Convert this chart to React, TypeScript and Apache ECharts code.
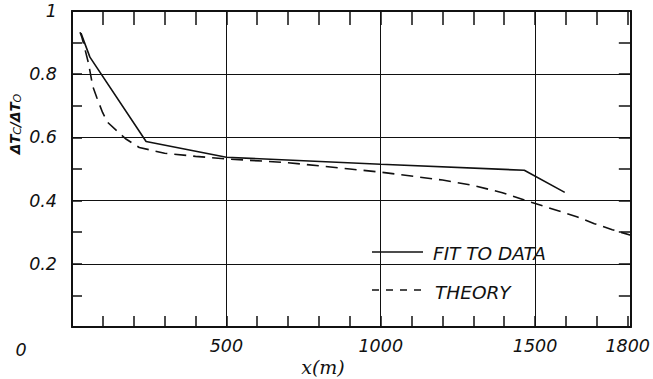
import React, { useEffect, useRef } from "react";
import * as echarts from "echarts";

const fitX = [29, 58, 240, 500, 1000, 1465, 1596];
const fitY = [0.93, 0.854, 0.587, 0.537, 0.515, 0.496, 0.426];

const theoryX = [26, 32, 42, 54, 67, 80, 99, 115, 147, 176, 218, 300, 400, 500, 700, 900, 1000, 1200, 1300, 1394, 1490, 1564, 1635, 1692, 1750, 1810];
const theoryY = [0.933, 0.917, 0.879, 0.832, 0.762, 0.727, 0.679, 0.648, 0.619, 0.594, 0.568, 0.55, 0.54, 0.532, 0.52, 0.5, 0.49, 0.465, 0.448, 0.425, 0.394, 0.371, 0.349, 0.327, 0.308, 0.29];

const xTickLabels = [500, 1000, 1500, 1800];
const yTickLabels = [0.2, 0.4, 0.6, 0.8, 1];
const xGridValues = [500, 1000, 1500];
const yGridValues = [0.2, 0.4, 0.6, 0.8];
const seriesNames = ["FIT TO DATA", "THEORY"];

const FONT = "DejaVu Sans";
const INK = "#111";

export default function App() {
  const ref = useRef<HTMLDivElement>(null);
  useEffect(() => {
    const chart = echarts.init(ref.current!, null, { renderer: "svg" });
    const labelStyle = { color: INK, fontFamily: FONT, fontStyle: "italic" as const, fontSize: 17.5 };
    const axisLine = { show: true, onZero: false, lineStyle: { color: INK, width: 2 } };
    chart.setOption({
      animation: false,
      grid: { left: 72, right: 17, top: 11, bottom: 52 },
      xAxis: [
        {
          type: "value", min: 0, max: 1810, interval: 100, position: "bottom",
          axisLine,
          axisTick: { show: true, inside: true, length: 11, lineStyle: { color: INK, width: 1.5 } },
          axisLabel: {
            ...labelStyle, margin: 10,
            formatter: (v: number) => (xTickLabels.includes(Math.round(v)) ? String(Math.round(v)) : ""),
          },
          splitLine: { show: false },
        },
        {
          type: "value", min: 0, max: 1810, interval: 100, position: "top",
          axisLine,
          axisTick: { show: true, inside: true, length: 14, lineStyle: { color: INK, width: 1.5 } },
          axisLabel: { show: false },
          splitLine: { show: false },
        },
      ],
      yAxis: [
        {
          type: "value", min: 0, max: 1, interval: 0.1, position: "left",
          axisLine,
          axisTick: { show: true, inside: true, length: 10, lineStyle: { color: INK, width: 1.5 } },
          axisLabel: {
            ...labelStyle, margin: 15,
            formatter: (v: number) => {
              const r = Math.round(v * 10) / 10;
              return yTickLabels.some((t) => Math.abs(t - r) < 1e-6) ? String(r) : "";
            },
          },
          splitLine: { show: false },
        },
        {
          type: "value", min: 0, max: 1, interval: 0.1, position: "right",
          axisLine,
          axisTick: { show: true, inside: true, length: 12, lineStyle: { color: INK, width: 1.5 } },
          axisLabel: { show: false },
          splitLine: { show: false },
        },
      ],
      graphic: [
        { type: "rect", z: 5, shape: { x: 352, y: 240, width: 226, height: 34 }, style: { fill: "#fff" } },
        { type: "rect", z: 5, shape: { x: 352, y: 274, width: 170, height: 26 }, style: { fill: "#fff" } },
        { type: "line", z: 10, shape: { x1: 372, y1: 252, x2: 423, y2: 252 }, style: { stroke: INK, lineWidth: 1.5 } },
        { type: "text", z: 10, x: 433, y: 253, style: { text: seriesNames[0], fill: INK, font: `italic 18.5px "${FONT}"`, textAlign: "left", textVerticalAlign: "middle" } },
        { type: "line", z: 10, shape: { x1: 372, y1: 290, x2: 423, y2: 290 }, style: { stroke: INK, lineWidth: 1.5, lineDash: [7, 7] } },
        { type: "text", z: 10, x: 435, y: 292, style: { text: seriesNames[1], fill: INK, font: `italic 18.5px "${FONT}"`, textAlign: "left", textVerticalAlign: "middle" } },
        { type: "text", z: 10, x: 21, y: 350, style: { text: "0", fill: INK, font: `italic 17.5px "${FONT}"`, textAlign: "center", textVerticalAlign: "middle" } },
        { type: "text", z: 10, x: 323, y: 367, style: { text: "x(m)", fill: INK, font: `italic 19px "DejaVu Serif"`, textAlign: "center", textVerticalAlign: "middle" } },
        {
          type: "text", z: 10, x: 15, y: 124, rotation: Math.PI / 2,
          style: {
            text: "{a|ΔT}{s|C}{a|/ΔT}{s|O}",
            textAlign: "center", textVerticalAlign: "middle",
            rich: {
              a: { fontFamily: FONT, fontStyle: "italic", fontWeight: "bold", fontSize: 13.5, fill: INK, color: INK },
              s: { fontFamily: FONT, fontStyle: "italic", fontSize: 11, fill: INK, color: INK, padding: [5, 0, 0, 0] },
            },
          },
        },
      ],
      series: [
        {
          name: seriesNames[0], type: "line", xAxisIndex: 0, yAxisIndex: 0, symbol: "none", z: 3,
          lineStyle: { color: INK, width: 1.6, type: "solid" }, itemStyle: { color: INK },
          data: fitX.map((x, i) => [x, fitY[i]]),
          markLine: {
            silent: true, symbol: "none", label: { show: false }, animation: false,
            lineStyle: { color: INK, width: 1, type: "solid" },
            data: [
              ...xGridValues.map((v) => ({ xAxis: v })),
              ...yGridValues.map((v) => ({ yAxis: v })),
            ],
          },
        },
        {
          name: seriesNames[1], type: "line", xAxisIndex: 0, yAxisIndex: 0, symbol: "none", z: 3,
          lineStyle: { color: INK, width: 1.6, type: [12, 7] }, itemStyle: { color: INK },
          data: theoryX.map((x, i) => [x, theoryY[i]]),
        },
      ],
    });
    return () => chart.dispose();
  }, []);
  return <div ref={ref} style={{ position: "absolute", left: 0, top: 0, width: 653, height: 379, background: "#fff" }} />;
}
